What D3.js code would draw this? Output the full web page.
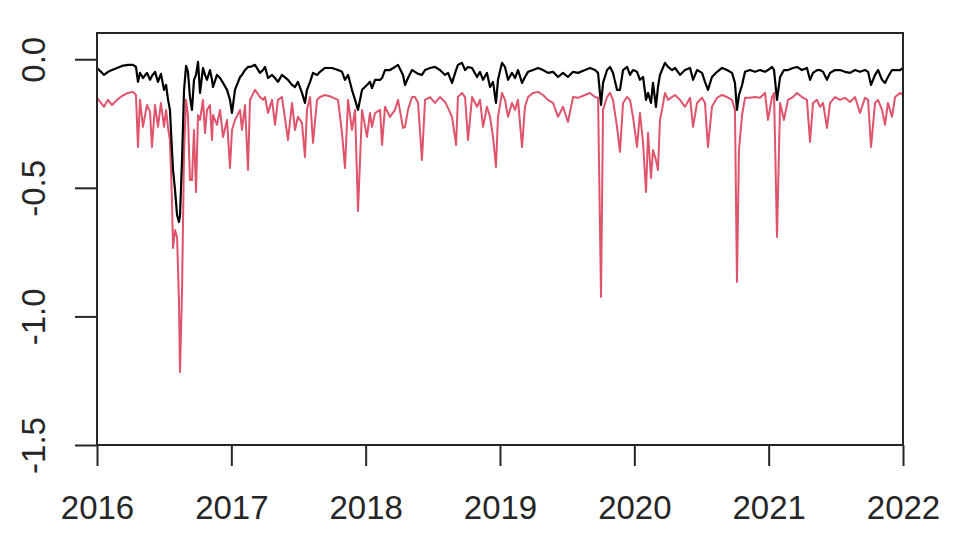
<!DOCTYPE html>
<html>
<head>
<meta charset="utf-8">
<script src="https://cdn.jsdelivr.net/npm/d3@7"></script>
<style>
  html, body { margin: 0; padding: 0; background: #ffffff; }
  svg { display: block; }
</style>
</head>
<body>
<svg id="chart" width="958" height="545"></svg>
<script>
// ---- data ----
const dates = [
  2016.000,2016.030,2016.052,2016.082,2016.112,2016.149,2016.186,2016.231,2016.268,2016.290,
  2016.305,2016.320,2016.342,2016.372,2016.395,2016.409,2016.432,2016.454,2016.476,2016.499,
  2016.514,2016.529,2016.543,2016.558,2016.566,2016.581,2016.596,2016.610,2016.618,2016.633,
  2016.648,2016.663,2016.677,2016.692,2016.707,2016.722,2016.737,2016.752,2016.767,2016.789,
  2016.804,2016.819,2016.841,2016.856,2016.864,2016.893,2016.916,2016.938,2016.968,2016.990,
  2017.005,2017.027,2017.065,2017.079,2017.102,2017.124,2017.139,2017.176,2017.213,2017.236,
  2017.251,2017.273,2017.303,2017.325,2017.347,2017.377,2017.422,2017.452,2017.474,2017.496,
  2017.526,2017.548,2017.563,2017.586,2017.608,2017.638,2017.660,2017.697,2017.749,2017.794,
  2017.824,2017.846,2017.869,2017.898,2017.921,2017.943,2017.973,
  2018.010,2018.032,2018.047,2018.070,2018.107,2018.122,2018.144,2018.181,2018.218,2018.241,
  2018.278,2018.293,2018.315,2018.345,2018.367,2018.390,2018.419,2018.442,2018.479,2018.516,
  2018.553,2018.591,2018.613,2018.643,2018.673,2018.687,2018.717,2018.740,2018.762,2018.792,
  2018.829,2018.851,2018.874,2018.903,2018.926,2018.948,2018.970,2018.985,
  2019.015,2019.037,2019.060,2019.089,2019.112,2019.134,2019.164,2019.186,2019.209,2019.246,
  2019.283,2019.320,2019.357,2019.395,2019.432,2019.469,2019.506,2019.544,2019.581,2019.633,
  2019.670,2019.707,2019.730,2019.752,2019.767,2019.797,2019.819,2019.841,2019.871,2019.893,
  2019.916,2019.946,2019.968,2019.990,
  2020.020,2020.042,2020.065,2020.087,2020.102,2020.124,2020.139,2020.161,2020.176,2020.191,
  2020.206,2020.228,2020.251,2020.281,2020.303,2020.340,2020.377,2020.415,2020.437,2020.467,
  2020.504,2020.526,2020.548,2020.578,2020.616,2020.653,2020.690,2020.727,2020.749,2020.764,
  2020.779,2020.802,2020.824,2020.861,2020.898,2020.936,2020.973,2020.995,
  2021.025,2021.040,2021.062,2021.085,2021.114,2021.144,2021.181,2021.211,2021.248,2021.285,
  2021.308,2021.330,2021.360,2021.382,2021.405,2021.434,2021.457,2021.494,2021.531,2021.568,
  2021.606,2021.643,2021.680,2021.717,2021.740,2021.762,2021.792,2021.814,2021.844,2021.866,
  2021.888,2021.918,2021.941,2021.978,
  2022.000
];

const blackSeries = [
  -0.034,-0.049,-0.061,-0.049,-0.042,-0.034,-0.026,-0.022,-0.022,-0.030,
  -0.088,-0.053,-0.073,-0.053,-0.080,-0.065,-0.049,-0.088,-0.057,-0.119,
  -0.100,-0.158,-0.197,-0.353,-0.431,-0.509,-0.606,-0.633,-0.606,-0.392,
  -0.119,-0.026,-0.049,-0.147,-0.197,-0.080,-0.061,-0.010,-0.131,-0.034,
  -0.061,-0.080,-0.042,-0.080,-0.108,-0.061,-0.073,-0.092,-0.119,-0.158,
  -0.209,-0.119,-0.069,-0.061,-0.042,-0.030,-0.030,-0.022,-0.053,-0.042,
  -0.030,-0.073,-0.061,-0.073,-0.088,-0.061,-0.080,-0.100,-0.108,-0.088,
  -0.131,-0.170,-0.119,-0.088,-0.053,-0.061,-0.049,-0.034,-0.034,-0.042,
  -0.049,-0.080,-0.061,-0.119,-0.158,-0.197,-0.119,
  -0.100,-0.088,-0.112,-0.080,-0.080,-0.073,-0.042,-0.042,-0.030,-0.022,
  -0.061,-0.100,-0.073,-0.042,-0.049,-0.057,-0.061,-0.042,-0.034,-0.030,
  -0.042,-0.061,-0.053,-0.092,-0.042,-0.022,-0.014,-0.042,-0.030,-0.034,
  -0.069,-0.049,-0.080,-0.053,-0.108,-0.088,-0.170,-0.080,
  -0.014,-0.030,-0.080,-0.053,-0.073,-0.042,-0.092,-0.069,-0.049,-0.042,
  -0.034,-0.042,-0.053,-0.049,-0.069,-0.053,-0.069,-0.049,-0.053,-0.042,
  -0.034,-0.042,-0.053,-0.178,-0.092,-0.042,-0.030,-0.053,-0.119,-0.119,
  -0.042,-0.030,-0.061,-0.042,
  -0.049,-0.080,-0.069,-0.158,-0.131,-0.170,-0.092,-0.185,-0.108,-0.061,
  -0.042,-0.014,-0.030,-0.042,-0.034,-0.061,-0.042,-0.034,-0.080,-0.042,
  -0.053,-0.088,-0.119,-0.069,-0.049,-0.034,-0.042,-0.053,-0.092,-0.197,
  -0.139,-0.100,-0.049,-0.042,-0.049,-0.042,-0.049,-0.042,
  -0.030,-0.042,-0.158,-0.069,-0.042,-0.042,-0.034,-0.030,-0.042,-0.034,
  -0.080,-0.053,-0.042,-0.042,-0.049,-0.080,-0.053,-0.042,-0.042,-0.049,
  -0.053,-0.042,-0.049,-0.042,-0.049,-0.100,-0.061,-0.042,-0.080,-0.092,
  -0.069,-0.042,-0.042,-0.042,
  -0.034
];

const redSeries = [
  -0.150,-0.170,-0.185,-0.158,-0.178,-0.158,-0.143,-0.131,-0.127,-0.139,
  -0.341,-0.158,-0.263,-0.178,-0.205,-0.341,-0.178,-0.263,-0.170,-0.263,
  -0.197,-0.267,-0.314,-0.548,-0.734,-0.664,-0.691,-0.936,-1.216,-0.897,
  -0.364,-0.158,-0.217,-0.470,-0.470,-0.275,-0.516,-0.217,-0.236,-0.158,
  -0.287,-0.197,-0.178,-0.314,-0.217,-0.255,-0.197,-0.302,-0.236,-0.423,
  -0.275,-0.236,-0.197,-0.275,-0.178,-0.431,-0.158,-0.119,-0.147,-0.158,
  -0.147,-0.209,-0.158,-0.255,-0.158,-0.147,-0.314,-0.170,-0.275,-0.224,
  -0.248,-0.380,-0.197,-0.147,-0.325,-0.158,-0.147,-0.139,-0.147,-0.158,
  -0.287,-0.423,-0.158,-0.275,-0.197,-0.590,-0.197,
  -0.302,-0.209,-0.263,-0.209,-0.197,-0.333,-0.185,-0.224,-0.197,-0.158,
  -0.267,-0.263,-0.197,-0.147,-0.147,-0.170,-0.392,-0.158,-0.147,-0.170,
  -0.147,-0.166,-0.189,-0.224,-0.333,-0.147,-0.131,-0.147,-0.314,-0.147,
  -0.185,-0.158,-0.263,-0.185,-0.224,-0.302,-0.419,-0.224,
  -0.131,-0.158,-0.224,-0.170,-0.197,-0.158,-0.341,-0.185,-0.147,-0.131,
  -0.127,-0.139,-0.158,-0.170,-0.224,-0.185,-0.244,-0.147,-0.150,-0.139,
  -0.131,-0.147,-0.150,-0.924,-0.197,-0.147,-0.131,-0.158,-0.263,-0.360,
  -0.170,-0.147,-0.158,-0.224,
  -0.341,-0.209,-0.325,-0.516,-0.287,-0.462,-0.353,-0.392,-0.431,-0.236,
  -0.197,-0.131,-0.158,-0.147,-0.139,-0.158,-0.185,-0.150,-0.263,-0.170,
  -0.150,-0.170,-0.341,-0.185,-0.150,-0.139,-0.147,-0.158,-0.197,-0.866,
  -0.353,-0.217,-0.150,-0.150,-0.147,-0.150,-0.131,-0.236,
  -0.147,-0.131,-0.691,-0.170,-0.236,-0.158,-0.147,-0.131,-0.147,-0.158,
  -0.322,-0.170,-0.158,-0.185,-0.170,-0.267,-0.170,-0.147,-0.158,-0.150,
  -0.166,-0.147,-0.209,-0.150,-0.158,-0.341,-0.170,-0.158,-0.197,-0.255,
  -0.170,-0.224,-0.147,-0.131,
  -0.139
];

const xTicks = [2016, 2017, 2018, 2019, 2020, 2021, 2022];
const xTickLabels = ["2016", "2017", "2018", "2019", "2020", "2021", "2022"];
const yTicks = [0, -0.5, -1.0, -1.5];
const yTickLabels = ["0.0", "-0.5", "-1.0", "-1.5"];

// ---- drawing ----
(function () {
  const svg = d3.select("#chart");
  const pLeft = 97, pRight = 903, pTop = 33, pBottom = 445;
  const x = d3.scaleLinear().domain([2016, 2022]).range([pLeft, pRight]);
  const y = d3.scaleLinear().domain([-1.5, 0.102]).range([pBottom, pTop]);

  const FONT = "'Liberation Sans', Arial, Helvetica, sans-serif";
  const AXIS_COL = "#262626";

  const blackData = dates.map((t, i) => ({ t, v: blackSeries[i] }));
  const redData = dates.map((t, i) => ({ t, v: redSeries[i] }));
  const line = d3.line().x(d => x(d.t)).y(d => y(d.v));

  svg.append("path").datum(redData)
    .attr("d", line).attr("fill", "none")
    .attr("stroke", "#DF536B").attr("stroke-width", 2)
    .attr("stroke-linejoin", "round");

  svg.append("path").datum(blackData)
    .attr("d", line).attr("fill", "none")
    .attr("stroke", "#000").attr("stroke-width", 2.2)
    .attr("stroke-linejoin", "round");

  // box
  svg.append("rect")
    .attr("x", pLeft).attr("y", pTop)
    .attr("width", pRight - pLeft).attr("height", pBottom - pTop)
    .attr("fill", "none").attr("stroke", AXIS_COL).attr("stroke-width", 2);

  // bottom axis
  const xAxis = d3.axisBottom(x)
    .tickValues(xTicks)
    .tickFormat((d, i) => xTickLabels[i])
    .tickSize(21).tickPadding(30);
  const gx = svg.append("g").attr("transform", `translate(0,${pBottom})`).call(xAxis);
  gx.select(".domain").remove();
  gx.selectAll(".tick line").attr("stroke", AXIS_COL).attr("stroke-width", 2);
  gx.selectAll(".tick text")
    .attr("fill", AXIS_COL).style("font-family", FONT).style("font-size", "33px");

  // left axis
  const yAxis = d3.axisLeft(y)
    .tickValues(yTicks)
    .tickFormat((d, i) => yTickLabels[i])
    .tickSize(22);
  const gy = svg.append("g").attr("transform", `translate(${pLeft},0)`).call(yAxis);
  gy.select(".domain").remove();
  gy.selectAll(".tick line").attr("stroke", AXIS_COL).attr("stroke-width", 2);
  gy.selectAll(".tick text")
    .attr("x", 0).attr("y", 0).attr("dy", 0)
    .attr("text-anchor", "middle")
    .attr("transform", `translate(${45 - pLeft},0) rotate(-90)`)
    .attr("fill", AXIS_COL).style("font-family", FONT).style("font-size", "33px");
})();
</script>
</body>
</html>
